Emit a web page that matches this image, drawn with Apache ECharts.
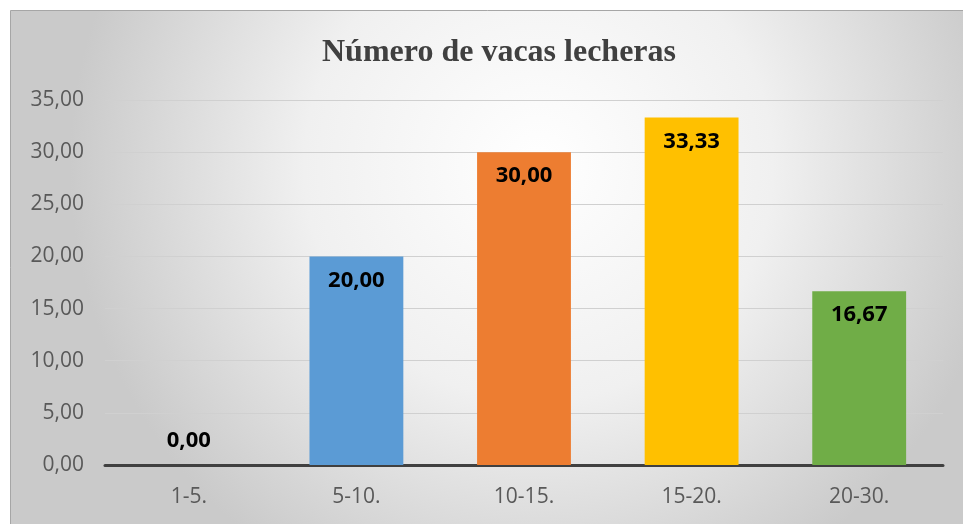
<!DOCTYPE html>
<html>
<head>
<meta charset="utf-8">
<script src="https://cdn.jsdelivr.net/npm/echarts@6/dist/echarts.min.js"></script>
<style>
  html, body { margin: 0; padding: 0; background: #fff; }
  #main { width: 963px; height: 524px; }
</style>
</head>
<body>
<div id="main"></div>
<script>
// datos
var categorias = ['1-5.', '5-10.', '10-15.', '15-20.', '20-30.'];
var valores = [0.00, 20.00, 30.00, 33.33, 16.67];
var colores = ['#5b9bd5', '#5b9bd5', '#ed7d31', '#ffc000', '#70ad47'];
var ticksY = [0, 5, 10, 15, 20, 25, 30, 35];

function fmt(v){
    return v.toFixed(2).replace('.', ',');
}

var chartDom = document.getElementById('main');
var myChart = echarts.init(chartDom);

var datos = valores.map(function(v, i){
    var d = { value: v, itemStyle: { color: colores[i] } };
    //la barra en cero lleva la etiqueta encima
    if (v === 0) d.label = { position: 'top', distance: 13 };
    return d;
});

var option = {
    animation: false,
    graphic: [{
        type: 'rect',
        left: 10, top: 10,
        shape: { width: 960, height: 520 },
        silent: true,
        z: -10,
        style: {
            fill: {
                type: 'radial', x: 0.55, y: 0.3, r: 0.9,
                colorStops: [
                    { offset: 0, color: '#ffffff' },
                    { offset: 0.5, color: '#f0f0f0' },
                    { offset: 1, color: '#cacaca' }
                ]
            },
            stroke: '#a6a6a6',
            lineWidth: 1
        }
    }],
    title: {
        text: 'Número de vacas lecheras',
        left: 317,
        top: 32,
        textStyle: {
            fontFamily: 'Liberation Serif',
            fontWeight: 'bold',
            fontSize: 32,
            color: '#404040'
        }
    },
    grid: { left: 105, right: 20, top: 100, bottom: 59, containLabel: false },
    xAxis: {
        type: 'category',
        data: categorias,
        axisTick: { show: false },
        axisLine: { lineStyle: { color: '#404040', width: 3 } },
        axisLabel: {
            margin: 22,
            fontFamily: 'Open Sans',
            fontSize: 21,
            color: '#595959'
        }
    },
    yAxis: {
        type: 'value',
        min: ticksY[0],
        max: ticksY[ticksY.length - 1],
        interval: 5,
        axisLine: { show: false },
        axisTick: { show: false },
        splitLine: { lineStyle: { color: '#d0d0d0', width: 1 } },
        axisLabel: {
            margin: 21,
            fontFamily: 'Open Sans',
            fontSize: 21,
            color: '#595959',
            formatter: function(v){ return fmt(v); }
        }
    },
    series: [{
        type: 'bar',
        data: datos,
        barWidth: '56%',
        label: {
            show: true,
            position: 'insideTop',
            distance: 13,
            fontFamily: 'Open Sans',
            fontWeight: 'bold',
            fontSize: 22,
            color: '#000000',
            formatter: function(p){ return fmt(p.value); }
        }
    }]
};

option && myChart.setOption(option);
</script>
</body>
</html>
